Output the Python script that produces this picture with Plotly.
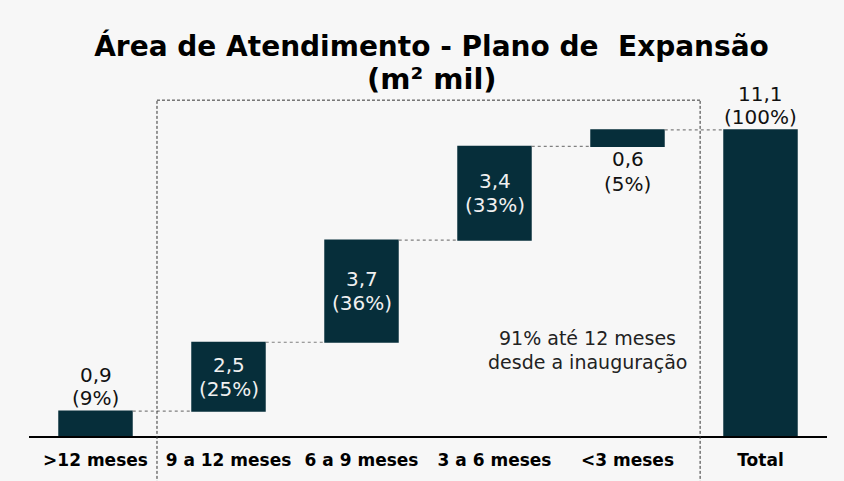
import plotly.graph_objects as go

categories = [">12 meses", "9 a 12 meses", "6 a 9 meses", "3 a 6 meses", "<3 meses", "Total"]
values = [0.9, 2.5, 3.7, 3.4, 0.6, 11.1]
measures = ["relative", "relative", "relative", "relative", "relative", "total"]
percents = ["9%", "25%", "36%", "33%", "5%", "100%"]
label_pos = ["above", "inside", "inside", "inside", "below", "above"]

bar_color = "#062e3a"
bg = "#f7f7f7"
font = "DejaVu Sans"

fig = go.Figure(go.Waterfall(
    x=categories, y=values, measure=measures,
    increasing={"marker": {"color": bar_color}},
    decreasing={"marker": {"color": bar_color}},
    totals={"marker": {"color": bar_color}},
    connector={"line": {"color": "#808080", "width": 1.2, "dash": "dot"}},
    width=0.56, hoverinfo="skip", showlegend=False,
))

# value / percent labels, one annotation per line so the spacing stays tight
base = 0.0
for i, (cat, v, m) in enumerate(zip(categories, values, measures)):
    if m == "total":
        lo, hi = 0.0, v
    else:
        lo, hi = base, base + v
        base = hi
    lines = [f"{v:.1f}".replace(".", ","), f"({percents[i]})"]
    pos = label_pos[i]
    if pos == "inside":
        y, shifts, col = (lo + hi) / 2, [12, -12], "#f0f0f0"
    elif pos == "above":
        y, shifts, col = hi, [36, 13], "#111111"
    else:
        y, shifts, col = lo, [-13, -38], "#111111"
    for txt, s in zip(lines, shifts):
        fig.add_annotation(x=cat, y=y, yshift=s, text=txt, showarrow=False,
                           xanchor="center", yanchor="middle",
                           font=dict(family=font, size=20, color=col))

note = ["91% até 12 meses", "desde a inauguração"]
for txt, yy in zip(note, [0.287, 0.217]):
    fig.add_annotation(xref="paper", yref="paper", x=0.6995, y=yy, text=txt,
                       showarrow=False, xanchor="center", yanchor="middle",
                       font=dict(family=font, size=19, color="#222222"))

# title second line
fig.add_annotation(xref="paper", yref="paper", x=0.5056, y=1.044, text="<b>(m² mil)</b>",
                   showarrow=False, xanchor="center", yanchor="middle",
                   font=dict(family=font, size=29, color="#000000"))

# dashed box around the first-12-months group
box = dict(type="line", xref="paper", yref="paper",
           line=dict(color="#333333", width=1, dash="3px,2px"))
fig.add_shape(**box, x0=0.1604, x1=0.1604, y0=-0.14, y1=0.982)
fig.add_shape(**box, x0=0.1604, x1=0.841, y0=0.982, y1=0.982)
fig.add_shape(**box, x0=0.841, x1=0.841, y0=-0.14, y1=0.982)

fig.update_layout(
    width=844, height=481,
    margin=dict(l=29, r=17, t=94, b=45),
    paper_bgcolor=bg, plot_bgcolor=bg,
    title=dict(text="<b>Área de Atendimento - Plano de\u00a0 Expansão</b>",
               x=0.5113, xanchor="center", yref="container", y=1 - 46 / 481, yanchor="middle",
               font=dict(family=font, size=28, color="#000000")),
    xaxis=dict(showgrid=False, showline=True, linecolor="#000000", linewidth=1.5,
               ticks="", ticklabelstandoff=8,
               tickfont=dict(family=font, size=17, color="#000000", weight="bold"),
               range=[-0.5, 5.5]),
    yaxis=dict(visible=False, range=[0, 12.4]),
)

fig.write_html("out.html", config={"displayModeBar": False},
               post_script="document.body.style.margin='0';")
